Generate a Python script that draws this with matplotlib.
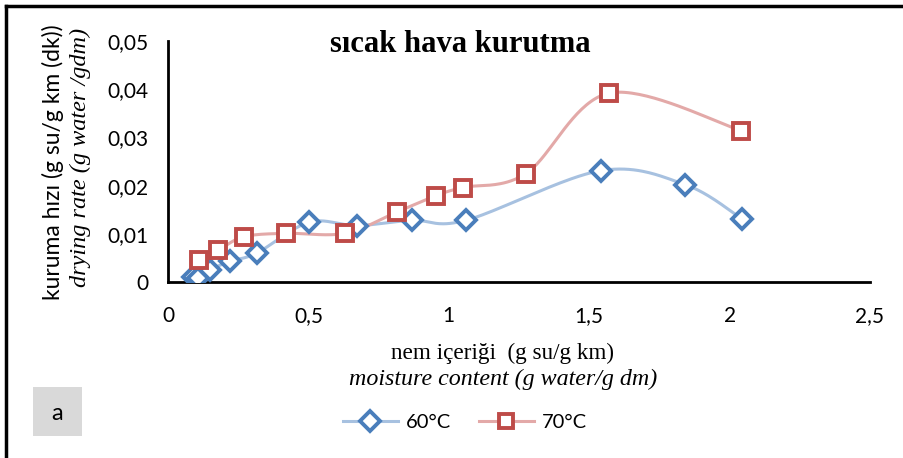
import numpy as np
import matplotlib
matplotlib.use("Agg")
import matplotlib.pyplot as plt
from matplotlib.patches import Rectangle
from matplotlib.lines import Line2D

# moisture content (g water / g dm) and drying rate (g water / g dm min)
x_60 = [0.088, 0.108, 0.150, 0.220, 0.316, 0.503, 0.672, 0.869, 1.061, 1.541, 1.842, 2.044]
y_60 = [0.0011, 0.0009, 0.0025, 0.0043, 0.0060, 0.0124, 0.0117, 0.0128, 0.0128, 0.0231, 0.0202, 0.0131]
x_70 = [0.111, 0.179, 0.271, 0.420, 0.631, 0.814, 0.954, 1.049, 1.275, 1.572, 2.042]
y_70 = [0.0045, 0.0066, 0.0094, 0.0101, 0.0101, 0.0145, 0.0179, 0.0196, 0.0225, 0.0392, 0.0314]

series_labels = ["60°C", "70°C"]
x_ticks = [0, 0.5, 1, 1.5, 2, 2.5]
y_ticks = [0, 0.01, 0.02, 0.03, 0.04, 0.05]

BLUE = "#4a7ebb"
BLUE_LINE = "#a7c1e0"
RED = "#be4b48"
RED_LINE = "#e3a9a8"


def smooth(xs, ys, n=40):
    """Cubic Bezier smoothing through the points (Catmull-Rom style)."""
    p = np.column_stack([xs, ys]).astype(float)
    ext = np.vstack([p[0], p, p[-1]])
    out = []
    t = np.linspace(0, 1, n)[:, None]
    for i in range(len(p) - 1):
        p0, p1, p2, p3 = ext[i], ext[i + 1], ext[i + 2], ext[i + 3]
        c1 = p1 + (p2 - p0) / 6.0
        c2 = p2 - (p3 - p1) / 6.0
        seg = ((1 - t) ** 3) * p1 + 3 * ((1 - t) ** 2) * t * c1 + 3 * (1 - t) * t ** 2 * c2 + t ** 3 * p2
        out.append(seg if i == 0 else seg[1:])
    c = np.vstack(out)
    return c[:, 0], c[:, 1]


def fmt(v):
    s = f"{v:g}"
    return s.replace(".", ",")


fig = plt.figure(figsize=(9.04, 4.58), dpi=100)
ax = fig.add_axes([168 / 904, 1 - 282 / 458, (870 - 168) / 904, (282 - 41) / 458])

sx, sy = smooth(x_60, y_60)
ax.plot(sx, sy, color=BLUE_LINE, lw=2.2, zorder=2, solid_capstyle="round")
ax.plot(x_60, y_60, ls="none", marker="D", ms=10, mfc="white", mec=BLUE, mew=2.8, zorder=4)

sx, sy = smooth(x_70, y_70)
ax.plot(sx, sy, color=RED_LINE, lw=2.2, zorder=3, solid_capstyle="round")
ax.plot(x_70, y_70, ls="none", marker="s", ms=11, mfc="white", mec=RED, mew=2.8, zorder=5)

ax.set_xlim(0, 2.5)
ax.set_ylim(0, 0.05)
ax.set_xticks(x_ticks)
ax.set_yticks(y_ticks)
ax.set_xticklabels([fmt(v) for v in x_ticks], fontsize=15, family="Lato")
ax.set_yticklabels([fmt(v) for v in y_ticks], fontsize=15, family="Lato")
ax.tick_params(length=0)
ax.tick_params(axis="y", pad=14)
ax.tick_params(axis="x", pad=17)
for s in ["top", "right"]:
    ax.spines[s].set_visible(False)
for s in ["left", "bottom"]:
    ax.spines[s].set_linewidth(2)
    ax.spines[s].set_color("black")

# title
fig.text(460 / 904, 1 - 45 / 458, "sıcak hava kurutma", ha="center", va="center",
         family="Liberation Serif", fontweight="bold", fontsize=22)

# y-axis title (two lines)
fig.text(53 / 904, 1 - 162 / 458, "kuruma hızı (g su/g km (dk))", rotation=90,
         ha="center", va="center", family="Lato", fontsize=16.5)
fig.text(80 / 904, 1 - 157 / 458, "drying rate (g water /gdm)", rotation=90,
         ha="center", va="center", family="Liberation Serif", style="italic", fontsize=17.5)

# x-axis title (two lines)
fig.text(503 / 904, 1 - 353 / 458, "nem içeriği  (g su/g km)", ha="center", va="center",
         family="Liberation Serif", fontsize=16.7)
fig.text(503 / 904, 1 - 379 / 458, "moisture content (g water/g dm)", ha="center", va="center",
         family="Liberation Serif", style="italic", fontsize=17.3)

# legend
handles = [
    Line2D([], [], color=BLUE_LINE, lw=2.2, marker="D", ms=10, mfc="white", mec=BLUE, mew=2.8),
    Line2D([], [], color=RED_LINE, lw=2.2, marker="s", ms=10.5, mfc="white", mec=RED, mew=2.8),
]
fig.legend(handles, series_labels, loc="center", bbox_to_anchor=(465 / 904, 1 - 422 / 458),
           ncol=2, frameon=False, prop={"family": "Lato", "size": 14.5},
           handlelength=2.7, columnspacing=1.4, handletextpad=0.4)

# panel tag
fig.patches.append(Rectangle((33 / 904, 1 - 436 / 458), 49 / 904, 49 / 458,
                             transform=fig.transFigure, facecolor="#d9d9d9", edgecolor="none"))
fig.text(57.5 / 904, 1 - 413 / 458, "a", ha="center", va="center", family="Lato", fontsize=17)

# frame lines along top and left
fig.add_artist(Line2D([6 / 904, 6 / 904], [0, 1 - 6 / 458], transform=fig.transFigure, color="black", lw=2.5))
fig.add_artist(Line2D([6 / 904, 1], [1 - 6 / 458, 1 - 6 / 458], transform=fig.transFigure, color="black", lw=2.5))

fig.savefig("out.png", dpi=100, facecolor="white")
